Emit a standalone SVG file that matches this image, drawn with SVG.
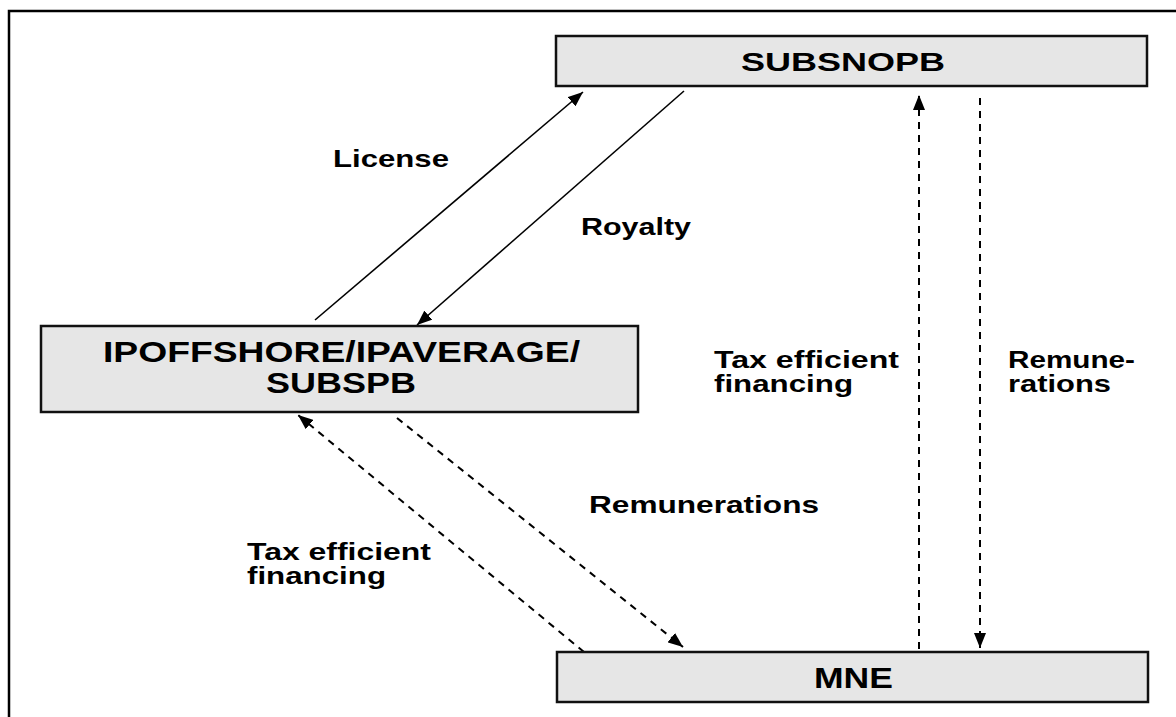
<svg xmlns="http://www.w3.org/2000/svg" width="1176" height="717" viewBox="0 0 1176 717">
  <style>
    .node rect { fill: #e6e6e6; stroke: #111; stroke-width: 2.5; }
    .ntext { font-family: "Liberation Sans", Arial, sans-serif; font-weight: bold; font-size: 29px; fill: #000; }
    .label { font-family: "Liberation Sans", Arial, sans-serif; font-weight: bold; font-size: 24px; fill: #000; }
    .solid { stroke: #000; stroke-width: 1.6; fill: none; marker-end: url(#arrow); }
    .dashed { stroke: #000; stroke-width: 2; fill: none; stroke-dasharray: 7 6; marker-end: url(#arrow); }
  </style>
  <defs>
    <marker id="arrow" markerUnits="userSpaceOnUse" markerWidth="15" markerHeight="12" refX="15" refY="6" orient="auto">
      <path d="M0,0 L15,6 L0,12 z" fill="#000"/>
    </marker>
  </defs>
  <rect width="1176" height="717" fill="#fff"/>
  <path d="M9,717 V11 H1176" fill="none" stroke="#000" stroke-width="2.5"/>

  <g id="connectors">
    <line class="solid" x1="315" y1="320" x2="583" y2="92"/>
    <line class="solid" x1="684" y1="91" x2="417" y2="325"/>
    <line class="dashed" x1="584" y1="652" x2="298" y2="415"/>
    <line class="dashed" x1="397" y1="418" x2="683" y2="647"/>
    <line class="dashed" x1="919" y1="649" x2="919" y2="95"/>
    <line class="dashed" x1="980" y1="98" x2="980" y2="648"/>
  </g>

  <g id="labels">
    <text class="label" x="333" y="167" textLength="116" lengthAdjust="spacingAndGlyphs">License</text>
    <text class="label" x="581" y="235" textLength="110" lengthAdjust="spacingAndGlyphs">Royalty</text>
    <text class="label" x="714" y="368" textLength="185" lengthAdjust="spacingAndGlyphs">Tax efficient</text>
    <text class="label" x="714" y="392" textLength="139" lengthAdjust="spacingAndGlyphs">financing</text>
    <text class="label" x="1008" y="368" textLength="127" lengthAdjust="spacingAndGlyphs">Remune-</text>
    <text class="label" x="1008" y="392" textLength="103" lengthAdjust="spacingAndGlyphs">rations</text>
    <text class="label" x="589" y="513" textLength="230" lengthAdjust="spacingAndGlyphs">Remunerations</text>
    <text class="label" x="247" y="560" textLength="184" lengthAdjust="spacingAndGlyphs">Tax efficient</text>
    <text class="label" x="247" y="584" textLength="139" lengthAdjust="spacingAndGlyphs">financing</text>
  </g>

  <g id="node-subsnopb" class="node">
    <rect x="556" y="36" width="591" height="50"/>
    <text class="ntext" x="741" y="71" textLength="204" lengthAdjust="spacingAndGlyphs" style="font-size:26px">SUBSNOPB</text>
  </g>

  <g id="node-ipoffshore" class="node">
    <rect x="41" y="326" width="597" height="86"/>
    <text class="ntext" x="103" y="362" textLength="477" lengthAdjust="spacingAndGlyphs" style="font-size:30px">IPOFFSHORE/IPAVERAGE/</text>
    <text class="ntext" x="266" y="393" textLength="150" lengthAdjust="spacingAndGlyphs" style="font-size:30px">SUBSPB</text>
  </g>

  <g id="node-mne" class="node">
    <rect x="557" y="652" width="591" height="50"/>
    <text class="ntext" x="814" y="688" textLength="79" lengthAdjust="spacingAndGlyphs">MNE</text>
  </g>
</svg>
